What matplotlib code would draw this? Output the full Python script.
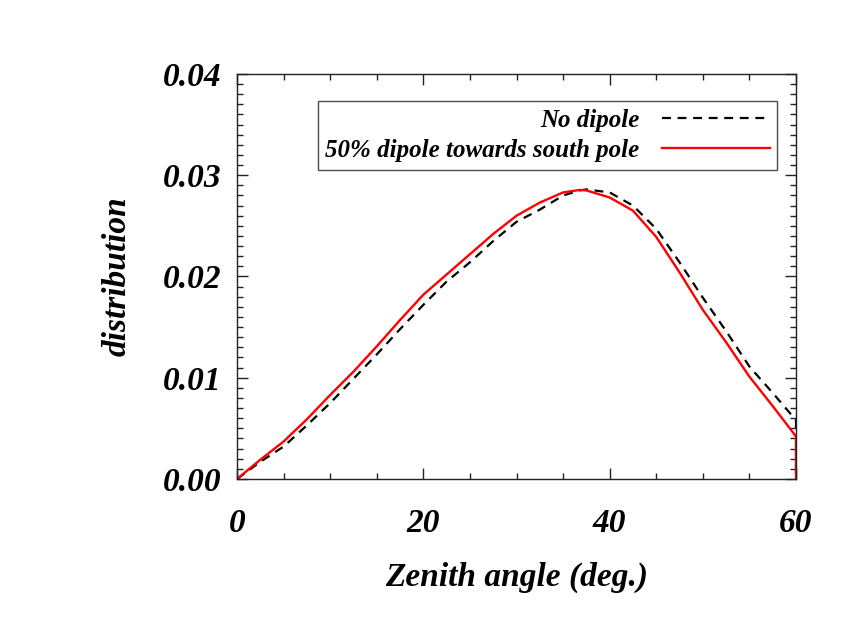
import numpy as np
import matplotlib
matplotlib.use('Agg')
import matplotlib.pyplot as plt
from matplotlib.ticker import MultipleLocator, FormatStrFormatter

# zenith angle (deg.) and distributions
zenith = [0, 2.5, 5, 7.5, 10, 12.5, 15, 17.5, 20, 22.5, 25, 27.5, 30, 32.5, 35, 36.8,
          37.5, 40, 42.5, 45, 47.5, 50, 52.5, 55, 57.5, 60, 60]
no_dipole = [0.0, 0.0017, 0.0032, 0.0053, 0.0075, 0.0099, 0.0123, 0.0148, 0.0172, 0.0195,
             0.0214, 0.0235, 0.0254, 0.0266, 0.0280, 0.0285, 0.0286, 0.0283, 0.0270, 0.0247,
             0.0214, 0.0179, 0.0146, 0.0111, 0.0085, 0.0058, 0.0]
south_dipole = [0.0, 0.0019, 0.0037, 0.0059, 0.0083, 0.0106, 0.0131, 0.0157, 0.0182, 0.0202,
                0.0222, 0.0242, 0.0260, 0.0273, 0.0283, 0.02855, 0.0285, 0.0278, 0.0265, 0.0239,
                0.0204, 0.0167, 0.0135, 0.0101, 0.0072, 0.0042, 0.0]

plt.rcParams['font.family'] = ['Liberation Serif', 'DejaVu Serif']
plt.rcParams['font.weight'] = 'bold'
plt.rcParams['font.style'] = 'italic'
plt.rcParams['axes.labelweight'] = 'bold'

fig = plt.figure(figsize=(8.66, 6.29), dpi=100)
ax = fig.add_axes([0.2737, 0.2385, 0.6455, 0.6439])

ax.plot(zenith, no_dipole, color='black', lw=1.6, dashes=(4, 3), label='No dipole')
ax.plot(zenith, south_dipole, color='red', lw=1.7, label='50% dipole towards south pole')

ax.set_xlim(0, 60)
ax.set_ylim(0, 0.04)
ax.xaxis.set_major_locator(MultipleLocator(20))
ax.xaxis.set_minor_locator(MultipleLocator(5))
ax.yaxis.set_major_locator(MultipleLocator(0.01))
ax.yaxis.set_minor_locator(MultipleLocator(0.001))
ax.yaxis.set_major_formatter(FormatStrFormatter('%.2f'))

ax.tick_params(which='both', direction='in', top=True, right=True, width=1.0, color='#222222')
ax.tick_params(which='major', length=8)
ax.tick_params(which='minor', length=4)
ax.tick_params(axis='x', which='major', pad=21, labelsize=24)
ax.tick_params(axis='y', which='major', pad=11, labelsize=24)
for sp in ax.spines.values():
    sp.set_linewidth(1.0)
    sp.set_color('#222222')

ax.set_xlabel('Zenith angle (deg.)', fontsize=24, labelpad=16)
ax.set_ylabel('distribution', fontsize=24, labelpad=22)

leg = ax.legend(loc='upper right', bbox_to_anchor=(0.966, 0.933), borderaxespad=0,
                markerfirst=False, fontsize=18, frameon=True, fancybox=False,
                edgecolor='#222222', handlelength=4.3, borderpad=0.3, labelspacing=0.3,
                handletextpad=0.9)
leg.get_frame().set_linewidth(1.0)
for t in leg.get_texts():
    t.set_ha('right')

fig.savefig('out.png', dpi=100)
